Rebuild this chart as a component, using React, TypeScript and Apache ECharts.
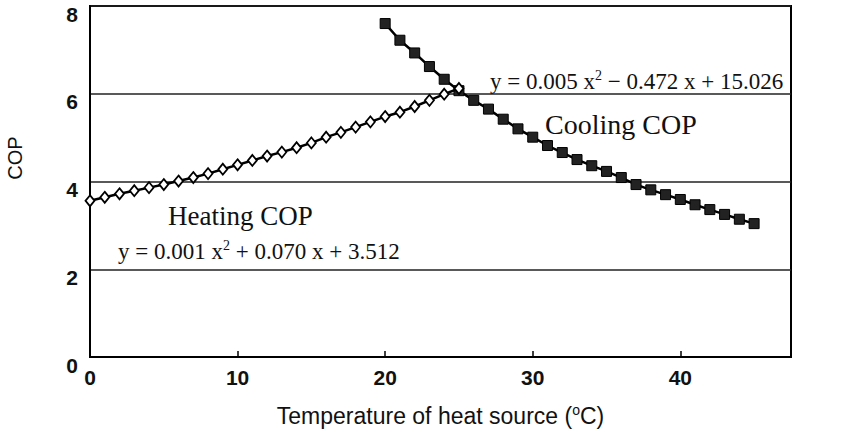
import React, { useEffect, useRef } from "react";
import * as echarts from "echarts";

const heatingX = [0, 1, 2, 3, 4, 5, 6, 7, 8, 9, 10, 11, 12, 13, 14, 15, 16, 17, 18, 19, 20, 21, 22, 23, 24, 25];
const heatingCOP = [3.56, 3.64, 3.72, 3.79, 3.86, 3.93, 4.01, 4.09, 4.18, 4.28, 4.38, 4.48, 4.58, 4.67, 4.77, 4.88, 5.01, 5.12, 5.24, 5.36, 5.48, 5.58, 5.71, 5.85, 5.99, 6.12];
const coolingX = [20, 21, 22, 23, 24, 25, 26, 27, 28, 29, 30, 31, 32, 33, 34, 35, 36, 37, 38, 39, 40, 41, 42, 43, 44, 45];
const coolingCOP = [7.6, 7.22, 6.93, 6.62, 6.33, 6.07, 5.85, 5.65, 5.42, 5.2, 5.01, 4.82, 4.66, 4.5, 4.36, 4.23, 4.09, 3.93, 3.81, 3.7, 3.59, 3.47, 3.36, 3.25, 3.14, 3.04];
const xTickLabels = [0, 10, 20, 30, 40];

const serif = "'Liberation Serif', 'Times New Roman', serif";
const sans = "'Liberation Sans', Arial, sans-serif";

export default function App() {
  const ref = useRef<HTMLDivElement>(null);
  useEffect(() => {
    if (!ref.current) return;
    const chart = echarts.init(ref.current, undefined, { renderer: "svg" });
    const eqRich = {
      sup: { fontSize: 14, fontFamily: serif, color: "#111", verticalAlign: "top", padding: [0, 0, 12, 0] },
    };
    chart.setOption({
      animation: false,
      backgroundColor: "#fff",
      grid: {
        left: 90,
        right: 59,
        top: 6,
        bottom: 87,
        containLabel: false,
        outerBoundsMode: "none",
        show: true,
        borderColor: "#000",
        borderWidth: 2,
        backgroundColor: "transparent",
      },
      xAxis: {
        type: "value",
        min: 0,
        max: 47.5,
        interval: 10,
        name: "Temperature of heat source ({sup|o}C)",
        nameLocation: "middle",
        nameGap: 46,
        nameTextStyle: {
          fontFamily: sans,
          fontSize: 23,
          color: "#111",
          rich: { sup: { fontFamily: sans, fontSize: 14, color: "#111", verticalAlign: "top", padding: [0, 0, 11, 0] } },
        },
        axisLine: { lineStyle: { color: "#000", width: 2 } },
        axisTick: { show: true, inside: true, length: 6, lineStyle: { color: "#000", width: 1.5 } },
        splitLine: { show: false },
        axisLabel: {
          margin: 10,
          fontFamily: sans,
          fontWeight: "bold",
          fontSize: 21,
          color: "#111",
          formatter: (v: number) => (xTickLabels.includes(v) ? String(v) : ""),
        },
      },
      yAxis: {
        type: "value",
        min: 0,
        max: 8,
        interval: 2,
        axisLine: { show: true, lineStyle: { color: "#000", width: 2 } },
        axisTick: { show: false },
        splitLine: { show: true, lineStyle: { color: "#222", width: 1.5 } },
        axisLabel: {
          margin: 12,
          fontFamily: sans,
          fontWeight: "bold",
          fontSize: 21,
          color: "#111",
          verticalAlign: "top",
          lineHeight: 16,
        },
      },
      series: [
        {
          name: "Cooling COP",
          type: "line",
          data: coolingX.map((x, i) => [x, coolingCOP[i]]),
          symbol: "rect",
          symbolSize: 10,
          lineStyle: { color: "#000", width: 2.5 },
          itemStyle: { color: "#222", borderColor: "#000", borderWidth: 1 },
          z: 3,
        },
        {
          name: "Heating COP",
          type: "line",
          data: heatingX.map((x, i) => [x, heatingCOP[i]]),
          symbol: "diamond",
          symbolSize: [9, 11],
          lineStyle: { color: "#000", width: 2.5 },
          itemStyle: { color: "#fff", borderColor: "#000", borderWidth: 1.8 },
          z: 4,
        },
      ],
      graphic: [
        {
          type: "text",
          x: 15,
          y: 158,
          rotation: Math.PI / 2,
          style: {
            text: "COP",
            fontFamily: sans,
            fontSize: 20,
            fill: "#111",
            align: "center",
            verticalAlign: "middle",
          },
        },
        {
          type: "text",
          left: 490,
          top: 68,
          style: {
            text: "y = 0.005 x{sup|2} − 0.472 x + 15.026",
            fontFamily: serif,
            fontSize: 23,
            fill: "#111",
            rich: eqRich,
          },
        },
        {
          type: "text",
          left: 545,
          top: 110,
          style: { text: "Cooling COP", fontFamily: serif, fontSize: 28, fill: "#111" },
        },
        {
          type: "text",
          left: 168,
          top: 202,
          style: { text: "Heating COP", fontFamily: serif, fontSize: 27, fill: "#111" },
        },
        {
          type: "text",
          left: 118,
          top: 238,
          style: {
            text: "y = 0.001 x{sup|2} + 0.070 x + 3.512",
            fontFamily: serif,
            fontSize: 23,
            fill: "#111",
            rich: eqRich,
          },
        },
      ],
    });
    return () => chart.dispose();
  }, []);
  return <div ref={ref} style={{ position: "fixed", left: 0, top: 0, width: 850, height: 444, background: "#fff" }} />;
}
